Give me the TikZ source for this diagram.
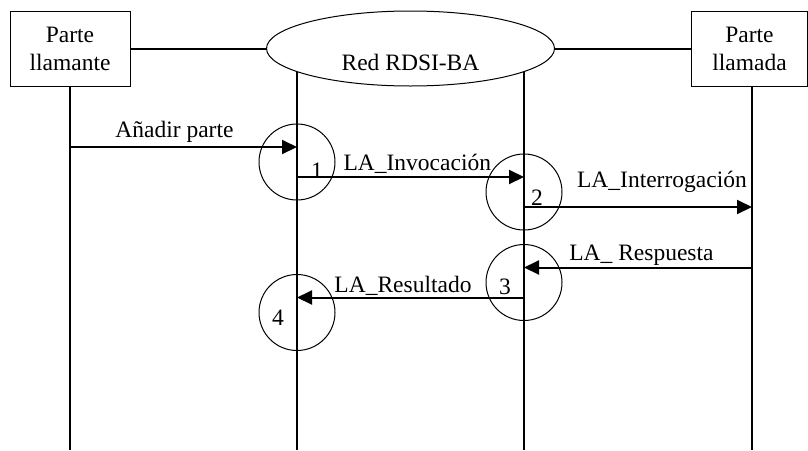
\documentclass[tikz,border=0pt]{standalone}
\usepackage{fontspec}
\setmainfont{Liberation Serif}
\usetikzlibrary{positioning,shapes.geometric,arrows.meta}

\begin{document}
\begin{tikzpicture}[x=0.5pt, y=-0.5pt,
      font=\fontsize{11.75}{14}\selectfont,
      party/.style={rectangle, draw, line width=0.5pt, align=center, minimum width=60pt, minimum height=37.5pt, inner sep=0pt},
      net/.style={ellipse, draw, fill=white, line width=0.5pt, minimum width=144pt, minimum height=37.5pt, inner sep=0pt, text height=21.5pt, text depth=0pt},
      act/.style={circle, draw, line width=0.5pt, minimum size=38pt, inner sep=0pt},
      life/.style={line width=1pt},
      msg/.style={line width=1pt, -{Triangle[length=7.5pt,width=7pt]}},
      lbl/.style={anchor=base, inner sep=0pt}
      ]
      \useasboundingbox (0,0) rectangle (808,450);
      \coordinate (TOP) at (0,48.5);
      \coordinate (BOT) at (0,450);
      \node[act] (C1) at (297,162) {};
      \node[act] (C2) at (524,192) {};
      \node[act] (C3) at (524,282.5) {};
      \node[act] (C4) at (297,312.5) {};
      \draw[life] (C1.center |- TOP) -- (C1.center |- BOT);
      \draw[life] (C2.center |- TOP) -- (C2.center |- BOT);
      \node[party] (PL) at (70,48.5) {Parte\\llamante};
      \node[net] (RED) at (410.5,48.5) {Red RDSI-BA};
      \node[party, minimum width=58pt] (PD) at (749.5,48.5) {Parte\\llamada};
      \coordinate (PDL) at ([xshift=1.25pt]PD.south);
      \draw[life] (PL.east) -- (RED.west);
      \draw[life] (RED.east) -- (PD.west);
      \draw[life] (PL.south) -- (PL.south |- BOT);
      \draw[life] (PDL) -- (PDL |- BOT);
      \node (N1) at (317,171) {1};
      \node (N2) at (537,198) {2};
      \node (N3) at (505,287) {3};
      \node (N4) at (278,318) {4};
      \coordinate (M1) at ([yshift=7.5pt]C1.center);
      \coordinate (M3) at ([yshift=-7.5pt]C2.center);
      \coordinate (M4) at ([yshift=7.5pt]C3.center);
      \draw[msg] (PL.south |- M1) -- node[lbl, pos=0.46, yshift=5pt] {Añadir parte} (M1);
      \draw[msg] ([yshift=-7.5pt]C1.center) -- node[lbl, pos=0.53, yshift=3.5pt] {LA\_Invocación} ([yshift=7.5pt]C2.center);
      \draw[msg] (M3) -- node[lbl, pos=0.605, yshift=10pt] {LA\_Interrogación} (PDL |- M3);
      \draw[msg] (PDL |- M4) -- node[lbl, pos=0.485, yshift=3.5pt] {LA\_ Respuesta} (M4);
      \draw[msg] ([yshift=-7.5pt]C3.center) -- node[lbl, pos=0.533, yshift=2.5pt] {LA\_Resultado} ([yshift=7.5pt]C4.center);
    \end{tikzpicture}
\end{document}
